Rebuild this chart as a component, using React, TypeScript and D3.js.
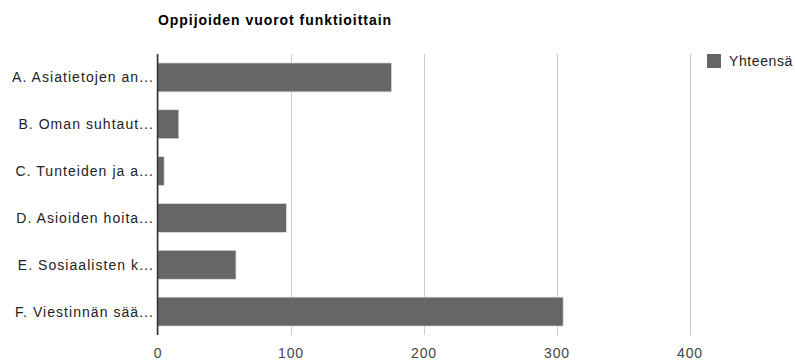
import React from "react";
import * as d3 from "d3";

const title = "Oppijoiden vuorot funktioittain";
const categories = [
  "A. Asiatietojen an...",
  "B. Oman suhtaut...",
  "C. Tunteiden ja a...",
  "D. Asioiden hoita...",
  "E. Sosiaalisten k...",
  "F. Viestinnän sää...",
];
const values = [176, 16, 5, 97, 59, 305];
const ticks = [0, 100, 200, 300, 400];
const seriesName = "Yhteensä";

const W = 795;
const H = 360;
const left = 157.5;
const right = 689.5;
const top = 54;
const bottom = 335;
const font = "Arial, 'Liberation Sans', sans-serif";

export default function App() {
  const x = d3.scaleLinear().domain([0, 400]).range([left, right]);
  const y = d3
    .scaleBand<string>()
    .domain(categories)
    .range([top, bottom])
    .paddingInner(0.382)
    .paddingOuter(0.191);

  return (
    <svg
      width={W}
      height={H}
      style={{ position: "absolute", left: 0, top: 0, background: "#fff" }}
      fontFamily={font}
    >
      <text x={158} y={25} fontSize={14} fontWeight="bold" fill="#000" letterSpacing={0.95}>
        {title}
      </text>
      {ticks.map((t) => (
        <line
          key={"g" + t}
          x1={Math.round(x(t)) + 0.5}
          x2={Math.round(x(t)) + 0.5}
          y1={top}
          y2={bottom}
          stroke="#cccccc"
          strokeWidth={1}
        />
      ))}
      {categories.map((c, i) => (
        <rect
          key={c}
          x={x(0)}
          y={y(c)!}
          width={x(values[i]) - x(0)}
          height={y.bandwidth()}
          fill="#666666"
          stroke="#e0e0e0"
          strokeWidth={0.7}
        />
      ))}
      <line
        x1={x(0)}
        x2={x(0)}
        y1={top}
        y2={bottom}
        stroke="#333333"
        strokeWidth={1.5}
      />
      {categories.map((c) => (
        <text
          key={"l" + c}
          x={154}
          y={y(c)! + y.bandwidth() / 2 + 5}
          fontSize={14}
          textAnchor="end"
          fill="#222222"
          letterSpacing={1.05}
        >
          {c}
        </text>
      ))}
      {ticks.map((t) => (
        <text
          key={"t" + t}
          x={x(t) + 0.5}
          y={358}
          fontSize={14}
          textAnchor="middle"
          fill="#444444"
          letterSpacing={0.8}
        >
          {t}
        </text>
      ))}
      <rect x={707} y={54} width={14} height={14} fill="#666666" />
      <text x={729} y={66} fontSize={14} fill="#222222" letterSpacing={0.6}>
        {seriesName}
      </text>
    </svg>
  );
}
